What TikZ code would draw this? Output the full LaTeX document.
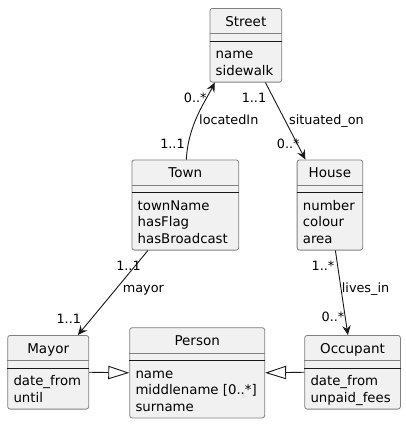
\documentclass[tikz,border=0pt]{standalone}
\usepackage{fontspec}
\setmainfont{DejaVu Sans}
\usetikzlibrary{calc,arrows.meta}
\definecolor{clsfill}{HTML}{F1F1F1}
\definecolor{clsborder}{HTML}{808080}
\definecolor{ink}{HTML}{181818}
\tikzset{
  cls/.style={draw=clsborder, fill=clsfill, line width=0.8pt, rounded corners=2.5pt, inner sep=0pt},
  ttl/.style={anchor=base, inner sep=0pt, font=\fontsize{13.5}{16}\selectfont},
  attr/.style={anchor=base west, inner sep=0pt, font=\fontsize{13.3}{16}\selectfont},
  sepa/.style={draw=clsborder, line width=0.8pt},
  sepb/.style={draw=ink, line width=1pt},
  assoc/.style={draw=ink, line width=0.9pt, -{Stealth[length=9.5pt, width=8.5pt, inset=3.5pt]}},
  inh/.style={draw=ink, line width=0.9pt, -{Triangle[open, length=21pt, width=13.3pt, fill=white]}},
  lbl/.style={inner sep=0pt, font=\fontsize{12.8}{15}\selectfont},
}
\newcommand\umlclass[7]{%
  \pgfmathsetmacro\clsh{57.2+16.5*(#5-1)}
  \node[cls, minimum width=#4pt, minimum height=\clsh pt, anchor=north west] (#1) at (#2,#3) {};
  \node[ttl] (#1-title) at ($(#1.north)+(0,18)$) {#6};
  \draw[sepa] ($(#1.north west)+(0,25.7)$) -- ($(#1.north east)+(0,25.7)$);
  \draw[sepb] ($(#1.north west)+(0,33.4)$) -- ($(#1.north east)+(0,33.4)$);
  \foreach \t [count=\i] in {#7} {
    \node[attr] (#1-a\i) at ($(#1.north west)+(6,50.7+16.5*\i-16.5)$) {\t};
  }
}
\begin{document}
\begin{tikzpicture}[x=1pt, y=-1pt]
  \useasboundingbox[fill=white] (0,0) rectangle (406,424);
  \umlclass{street}{209.5}{8}{71.8}{2}{Street}{name,sidewalk}
  \umlclass{town}{131.5}{159.5}{106.8}{3}{Town}{townName,hasFlag,hasBroadcast}
  \umlclass{house}{296.7}{159.5}{65.6}{3}{House}{number,colour,area}
  \umlclass{mayor}{7.3}{335}{81}{2}{Mayor}{date\_from,until}
  \umlclass{person}{129.3}{327.3}{135}{3}{Person}{name,middlename [0..*],surname}
  \umlclass{occupant}{304.3}{335}{95.7}{2}{Occupant}{date\_from,unpaid\_fees}

  % associations
  \draw[assoc] ([xshift=1pt]town.north) .. controls +(2,-35) and +(-10,20) .. ([xshift=-31pt]street.south);
  \draw[assoc] ([xshift=19.6pt]street.south) -- ([xshift=-24.5pt]house.north);
  \draw[assoc] ([xshift=-37.4pt]town.south) -- ([xshift=29.7pt]mayor.north);
  \draw[assoc] ([xshift=5.5pt]house.south) -- ([xshift=-4.7pt]occupant.north);

  % inheritance
  \draw[inh] (mayor.east) -- (person.west);
  \draw[inh] (occupant.west) -- (person.east);

  % labels
  \node[lbl, anchor=base] (l1) at (195.3,102.3) {0..*};
  \node[lbl, anchor=base] (l2) at (172.5,148.3) {1..1};
  \node[lbl, anchor=base west] (l3) at (199,124.3) {locatedIn};
  \node[lbl, anchor=base] (l4) at (254,102.3) {1..1};
  \node[lbl, anchor=base west] (l5) at (289,124.3) {situated\_on};
  \node[lbl, anchor=base] (l6) at (288.3,148.3) {0..*};
  \node[lbl, anchor=base] (l7) at (128.5,270.7) {1..1};
  \node[lbl, anchor=base west] (l8) at (122.7,292) {mayor};
  \node[lbl, anchor=base] (l9) at (68.8,323.3) {1..1};
  \node[lbl, anchor=base] (l10) at (323,270) {1..*};
  \node[lbl, anchor=base west] (l11) at (341.7,292) {lives\_in};
  \node[lbl, anchor=base] (l12) at (333,321.7) {0..*};
\end{tikzpicture}
\end{document}
